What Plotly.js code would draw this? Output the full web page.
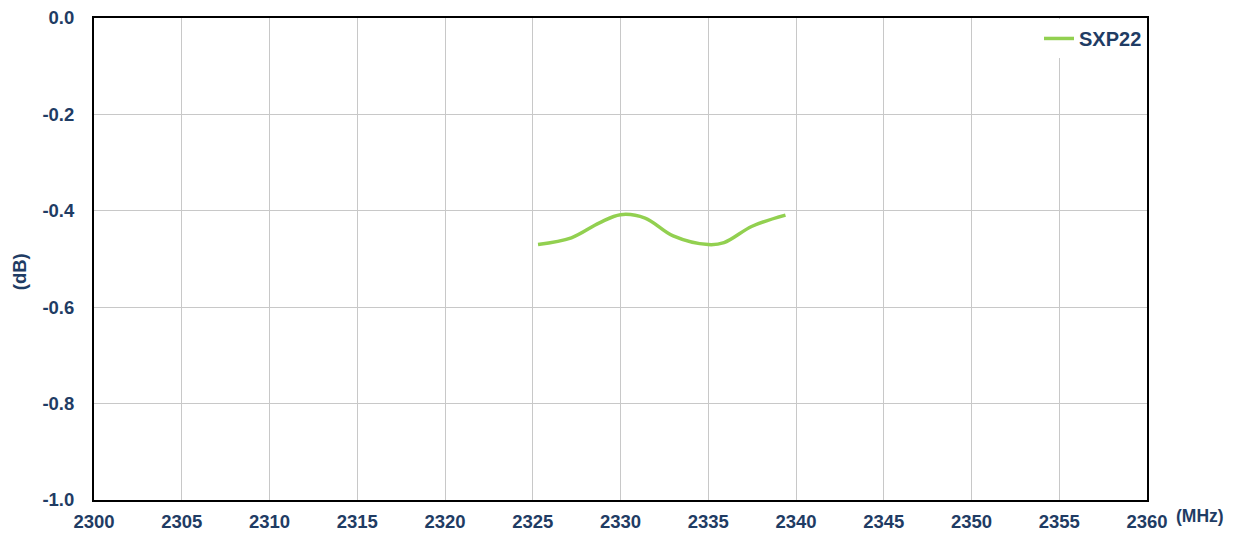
<!DOCTYPE html>
<html>
<head>
<meta charset="utf-8">
<script src="https://cdn.plot.ly/plotly-3.0.1.min.js"></script>
<style>html,body{margin:0;padding:0;background:#fff;}#chart{width:1234px;height:536px;}</style>
</head>
<body>
<div id="chart"></div>
<script>
const seriesName = "SXP22";
const freqMHz = [2325.3, 2327.2, 2328.8, 2330.0, 2331.4, 2333.0, 2335.0, 2335.9, 2337.5, 2339.4];
const lossDb  = [-0.470, -0.456, -0.425, -0.408, -0.415, -0.452, -0.470, -0.466, -0.432, -0.409];
const xTicks = [2300, 2305, 2310, 2315, 2320, 2325, 2330, 2335, 2340, 2345, 2350, 2355, 2360];
const yTicks = [0, -0.2, -0.4, -0.6, -0.8, -1.0];
const yTickText = ["0.0", "-0.2", "-0.4", "-0.6", "-0.8", "-1.0"];

const textColor = "#1f3c64";
const fam = "Liberation Sans, Arial, sans-serif";
const tickFont = {family: fam, size: 18.5, color: textColor, weight: "bold"};

const data = [{
  x: freqMHz, y: lossDb, type: "scatter", mode: "lines", name: seriesName,
  line: {color: "#92d050", width: 3.5, shape: "spline", smoothing: 1}
}];

const layout = {
  width: 1234, height: 536,
  margin: {l: 94, r: 87, t: 18, b: 36},
  paper_bgcolor: "#fff", plot_bgcolor: "#fff",
  showlegend: true,
  legend: {x: 1.0, y: 0.998, xanchor: "right", yanchor: "top", bgcolor: "rgba(255,255,255,1)",
           font: {family: fam, size: 20, color: textColor, weight: "bold"},
           itemwidth: 30, tracegroupgap: 0, borderwidth: 0},
  xaxis: {
    range: [2300, 2360], tickvals: xTicks, ticktext: xTicks.map(String),
    showgrid: true, gridcolor: "#c8c8c8", gridwidth: 1,
    showline: true, linecolor: "#000", linewidth: 2, mirror: true,
    ticks: "", tickfont: tickFont, zeroline: false, ticklabelstandoff: 4
  },
  yaxis: {
    range: [-1, 0], tickvals: yTicks, ticktext: yTickText,
    showgrid: true, gridcolor: "#c8c8c8", gridwidth: 1,
    showline: true, linecolor: "#000", linewidth: 2, mirror: true,
    ticks: "", tickfont: tickFont, zeroline: false, ticklabelstandoff: 14
  },
  annotations: [{
    text: "(MHz)", xref: "paper", yref: "paper", x: 1.026, y: -0.008, xanchor: "left", yanchor: "top",
    showarrow: false, font: {family: fam, size: 17.5, color: textColor, weight: "bold"}
  }, {
    text: "(dB)", xref: "paper", yref: "paper", x: -0.071, y: 0.473, xanchor: "center", yanchor: "middle",
    textangle: -90, showarrow: false, font: {family: fam, size: 18.5, color: textColor, weight: "bold"}
  }]
};

Plotly.newPlot("chart", data, layout, {displayModeBar: false, staticPlot: true});
</script>
</body>
</html>
